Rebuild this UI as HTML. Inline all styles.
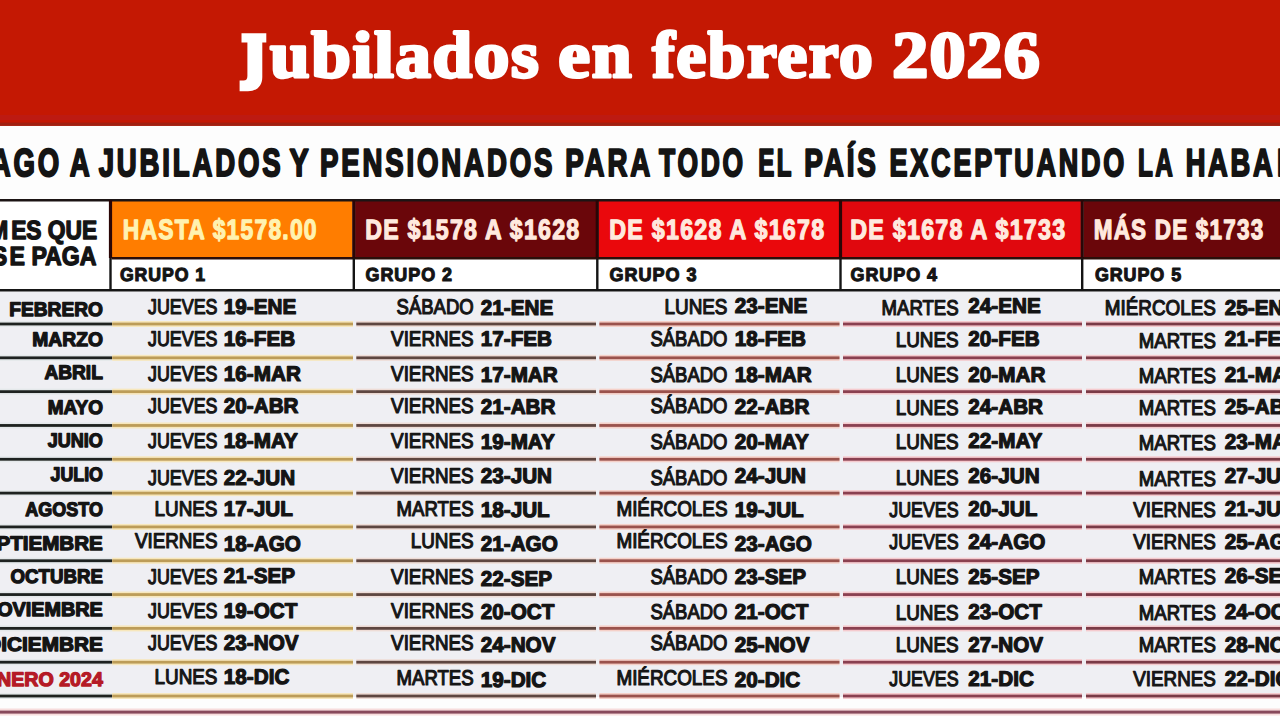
<!DOCTYPE html>
<html><head><meta charset="utf-8"><title>Jubilados en febrero 2026</title>
<style>html,body{margin:0;padding:0;width:1280px;height:720px;overflow:hidden;background:#FBFBFB}svg{display:block}</style>
</head><body>
<svg width="1280" height="720" viewBox="0 0 1280 720" text-rendering="geometricPrecision">
<rect x="0" y="0" width="1280" height="720" fill="#FDFDFD"/>
<rect x="0" y="0" width="1280" height="125.8" fill="#C41803"/>
<rect x="0" y="115" width="1280" height="5" fill="#BD1A12"/>
<rect x="0" y="122.6" width="1280" height="3.2" fill="#A02010"/>
<path d="M241.5 33.2 H266.3 V42.6 H262.3 V77 C262.3 86.5 256.5 91.2 248 91.2 H239.6 V80.6 H243.5 C246.2 80.6 247.4 79.2 247.4 76 V42.6 H241.5 Z" fill="#FFFFFF"/>
<text transform="translate(270.05 77.00) scale(1.0841 1)" font-family='"Liberation Serif"' font-weight="700" font-size="65.67" fill="#FFFFFF" stroke="#FFFFFF" stroke-width="3" stroke-linejoin="round" letter-spacing="1.5">ubilados</text>
<text transform="translate(558.35 77.00) scale(1.0913 1)" font-family='"Liberation Serif"' font-weight="700" font-size="65.67" fill="#FFFFFF" stroke="#FFFFFF" stroke-width="3" stroke-linejoin="round" letter-spacing="1.5">en</text>
<text transform="translate(652.35 77.00) scale(1.0274 1)" font-family='"Liberation Serif"' font-weight="700" font-size="65.67" fill="#FFFFFF" stroke="#FFFFFF" stroke-width="3" stroke-linejoin="round" letter-spacing="1.5">febrero</text>
<text transform="translate(892.35 77.00) scale(1.0965 1)" font-family='"Liberation Serif"' font-weight="700" font-size="65.67" fill="#FFFFFF" stroke="#FFFFFF" stroke-width="3" stroke-linejoin="round" letter-spacing="1.0">2026</text>
<text transform="translate(69.69 175.95) scale(0.7123 1)" font-family='"Liberation Sans"' font-weight="700" font-size="38.81" fill="#141414" stroke="#141414" stroke-width="2.1" stroke-linejoin="round" letter-spacing="4">A</text>
<text transform="translate(98.64 175.95) scale(0.7103 1)" font-family='"Liberation Sans"' font-weight="700" font-size="38.81" fill="#141414" stroke="#141414" stroke-width="2.1" stroke-linejoin="round" letter-spacing="4">JUBILADOS</text>
<text transform="translate(289.55 175.95) scale(0.7421 1)" font-family='"Liberation Sans"' font-weight="700" font-size="38.81" fill="#141414" stroke="#141414" stroke-width="2.1" stroke-linejoin="round" letter-spacing="4">Y</text>
<text transform="translate(319.94 175.95) scale(0.7115 1)" font-family='"Liberation Sans"' font-weight="700" font-size="38.81" fill="#141414" stroke="#141414" stroke-width="2.1" stroke-linejoin="round" letter-spacing="4">PENSIONADOS</text>
<text transform="translate(565.35 175.95) scale(0.7122 1)" font-family='"Liberation Sans"' font-weight="700" font-size="38.81" fill="#141414" stroke="#141414" stroke-width="2.1" stroke-linejoin="round" letter-spacing="4">PARA</text>
<text transform="translate(659.05 175.95) scale(0.6807 1)" font-family='"Liberation Sans"' font-weight="700" font-size="38.81" fill="#141414" stroke="#141414" stroke-width="2.1" stroke-linejoin="round" letter-spacing="4">TODO</text>
<text transform="translate(758.25 175.95) scale(0.6215 1)" font-family='"Liberation Sans"' font-weight="700" font-size="38.81" fill="#141414" stroke="#141414" stroke-width="2.1" stroke-linejoin="round" letter-spacing="4">EL</text>
<text transform="translate(804.35 175.95) scale(0.7182 1)" font-family='"Liberation Sans"' font-weight="700" font-size="38.81" fill="#141414" stroke="#141414" stroke-width="2.1" stroke-linejoin="round" letter-spacing="4">PAÍS</text>
<text transform="translate(889.55 175.95) scale(0.6956 1)" font-family='"Liberation Sans"' font-weight="700" font-size="38.81" fill="#141414" stroke="#141414" stroke-width="2.1" stroke-linejoin="round" letter-spacing="4">EXCEPTUANDO</text>
<text transform="translate(1137.94 175.95) scale(0.6255 1)" font-family='"Liberation Sans"' font-weight="700" font-size="38.81" fill="#141414" stroke="#141414" stroke-width="2.1" stroke-linejoin="round" letter-spacing="4">LA</text>
<text transform="translate(1185.64 175.95) scale(0.7022 1)" font-family='"Liberation Sans"' font-weight="700" font-size="38.81" fill="#141414" stroke="#141414" stroke-width="2.1" stroke-linejoin="round" letter-spacing="4">HABA</text>
<text transform="translate(-28.41 175.95) scale(0.7103 1)" font-family='"Liberation Sans"' font-weight="700" font-size="38.81" fill="#141414" stroke="#141414" stroke-width="2.1" stroke-linejoin="round" letter-spacing="4">PAGO</text>
<text transform="translate(1276.94 175.95) scale(0.7022 1)" font-family='"Liberation Sans"' font-weight="700" font-size="38.81" fill="#141414" stroke="#141414" stroke-width="2.1" stroke-linejoin="round" letter-spacing="4">NA</text>
<rect x="0" y="201" width="1280" height="90.5" fill="#FFFFFF"/>
<rect x="111.8" y="201" width="240.7" height="57" fill="#FF7D00"/>
<rect x="355.1" y="201" width="240.89999999999998" height="57" fill="#6A060A"/>
<rect x="598.5999999999999" y="201" width="240.60000000000014" height="57" fill="#EA080C"/>
<rect x="841.8" y="201" width="239.10000000000014" height="57" fill="#E0080E"/>
<rect x="1083.5" y="201" width="196.5" height="57" fill="#6A060A"/>
<rect x="0" y="291.5" width="1280" height="405.5" fill="#EFEFF3"/>
<rect x="0" y="199" width="1280" height="2.5" fill="#1C1414"/>
<rect x="111.5" y="257" width="1280" height="2.5" fill="#2A0E0A"/>
<rect x="0" y="289.0" width="1280" height="2.5" fill="#161616"/>
<rect x="108.9" y="200" width="3.2" height="58" fill="#2A0606"/>
<rect x="109.3" y="258" width="2.4" height="32.5" fill="#141414"/>
<rect x="352.2" y="200" width="3.2" height="58" fill="#2A0606"/>
<rect x="352.6" y="258" width="2.4" height="32.5" fill="#141414"/>
<rect x="595.6999999999999" y="200" width="3.2" height="58" fill="#2A0606"/>
<rect x="596.0999999999999" y="258" width="2.4" height="32.5" fill="#141414"/>
<rect x="838.9" y="200" width="3.2" height="58" fill="#2A0606"/>
<rect x="839.3" y="258" width="2.4" height="32.5" fill="#141414"/>
<rect x="1080.6000000000001" y="200" width="3.2" height="58" fill="#2A0606"/>
<rect x="1081.0" y="258" width="2.4" height="32.5" fill="#141414"/>
<text transform="translate(122.76 239.38) scale(0.8172 1)" font-family='"Liberation Sans"' font-weight="700" font-size="27.98" fill="#FFF2B0" stroke="#FFF2B0" stroke-width="1.25" stroke-linejoin="round" letter-spacing="1.5">HASTA $1578.00</text>
<text transform="translate(365.26 239.38) scale(0.8280 1)" font-family='"Liberation Sans"' font-weight="700" font-size="27.98" fill="#FFE9DE" stroke="#FFE9DE" stroke-width="1.25" stroke-linejoin="round" letter-spacing="1.5">DE $1578 A $1628</text>
<text transform="translate(609.26 239.38) scale(0.8319 1)" font-family='"Liberation Sans"' font-weight="700" font-size="27.98" fill="#FFE9DE" stroke="#FFE9DE" stroke-width="1.25" stroke-linejoin="round" letter-spacing="1.5">DE $1628 A $1678</text>
<text transform="translate(850.26 239.38) scale(0.8319 1)" font-family='"Liberation Sans"' font-weight="700" font-size="27.98" fill="#FFE9DE" stroke="#FFE9DE" stroke-width="1.25" stroke-linejoin="round" letter-spacing="1.5">DE $1678 A $1733</text>
<text transform="translate(1093.76 239.38) scale(0.8036 1)" font-family='"Liberation Sans"' font-weight="700" font-size="27.98" fill="#FFE9DE" stroke="#FFE9DE" stroke-width="1.25" stroke-linejoin="round" letter-spacing="1.5">MÁS DE $1733</text>
<text transform="translate(119.90 281.45) scale(0.9437 1)" font-family='"Liberation Sans"' font-weight="700" font-size="18.75" fill="#141414" stroke="#141414" stroke-width="1.1" stroke-linejoin="round" letter-spacing="1">GRUPO 1</text>
<text transform="translate(365.50 281.45) scale(0.9570 1)" font-family='"Liberation Sans"' font-weight="700" font-size="18.75" fill="#141414" stroke="#141414" stroke-width="1.1" stroke-linejoin="round" letter-spacing="1">GRUPO 2</text>
<text transform="translate(609.50 281.45) scale(0.9626 1)" font-family='"Liberation Sans"' font-weight="700" font-size="18.75" fill="#141414" stroke="#141414" stroke-width="1.1" stroke-linejoin="round" letter-spacing="1">GRUPO 3</text>
<text transform="translate(850.50 281.45) scale(0.9570 1)" font-family='"Liberation Sans"' font-weight="700" font-size="18.75" fill="#141414" stroke="#141414" stroke-width="1.1" stroke-linejoin="round" letter-spacing="1">GRUPO 4</text>
<text transform="translate(1094.89 281.45) scale(0.9537 1)" font-family='"Liberation Sans"' font-weight="700" font-size="18.75" fill="#141414" stroke="#141414" stroke-width="1.1" stroke-linejoin="round" letter-spacing="1">GRUPO 5</text>
<text transform="translate(11.13 239.30) scale(0.8654 1)" font-family='"Liberation Sans"' font-weight="700" font-size="26.31" fill="#141414" stroke="#141414" stroke-width="1.4" stroke-linejoin="round">ES QUE</text>
<text transform="translate(-10.70 239.30) scale(0.8654 1)" font-family='"Liberation Sans"' font-weight="700" font-size="26.31" fill="#141414" stroke="#141414" stroke-width="1.4" stroke-linejoin="round">M</text>
<text transform="translate(9.53 265.40) scale(0.8799 1)" font-family='"Liberation Sans"' font-weight="700" font-size="26.31" fill="#141414" stroke="#141414" stroke-width="1.4" stroke-linejoin="round">E PAGA</text>
<text transform="translate(-8.37 265.40) scale(0.8799 1)" font-family='"Liberation Sans"' font-weight="700" font-size="26.31" fill="#141414" stroke="#141414" stroke-width="1.4" stroke-linejoin="round">S</text>
<rect x="0" y="321.0" width="112.2" height="6" fill="#E4E8EA"/>
<rect x="0" y="322.6" width="112.2" height="2.8" fill="#1E2220"/>
<rect x="112.2" y="321.0" width="240.8" height="6" fill="#F7E7BC"/>
<rect x="112.2" y="322.6" width="240.8" height="2.8" fill="#BC9C58"/>
<rect x="356.3" y="321.0" width="239.7" height="6" fill="#EEDCD6"/>
<rect x="356.3" y="322.6" width="239.7" height="2.8" fill="#5E4640"/>
<rect x="599.4" y="321.0" width="240.10000000000002" height="6" fill="#F5D0C8"/>
<rect x="599.4" y="322.6" width="240.10000000000002" height="2.8" fill="#9A524C"/>
<rect x="843" y="321.0" width="239" height="6" fill="#F5CACE"/>
<rect x="843" y="322.6" width="239" height="2.8" fill="#8A4050"/>
<rect x="1086" y="321.0" width="194" height="6" fill="#F5CACE"/>
<rect x="1086" y="322.6" width="194" height="2.8" fill="#7A3A46"/>
<rect x="0" y="354.82" width="112.2" height="6" fill="#E4E8EA"/>
<rect x="0" y="356.42" width="112.2" height="2.8" fill="#1E2220"/>
<rect x="112.2" y="354.82" width="240.8" height="6" fill="#F7E7BC"/>
<rect x="112.2" y="356.42" width="240.8" height="2.8" fill="#BC9C58"/>
<rect x="356.3" y="354.82" width="239.7" height="6" fill="#EEDCD6"/>
<rect x="356.3" y="356.42" width="239.7" height="2.8" fill="#5E4640"/>
<rect x="599.4" y="354.82" width="240.10000000000002" height="6" fill="#F5D0C8"/>
<rect x="599.4" y="356.42" width="240.10000000000002" height="2.8" fill="#9A524C"/>
<rect x="843" y="354.82" width="239" height="6" fill="#F5CACE"/>
<rect x="843" y="356.42" width="239" height="2.8" fill="#8A4050"/>
<rect x="1086" y="354.82" width="194" height="6" fill="#F5CACE"/>
<rect x="1086" y="356.42" width="194" height="2.8" fill="#7A3A46"/>
<rect x="0" y="388.64" width="112.2" height="6" fill="#E4E8EA"/>
<rect x="0" y="390.24" width="112.2" height="2.8" fill="#1E2220"/>
<rect x="112.2" y="388.64" width="240.8" height="6" fill="#F7E7BC"/>
<rect x="112.2" y="390.24" width="240.8" height="2.8" fill="#BC9C58"/>
<rect x="356.3" y="388.64" width="239.7" height="6" fill="#EEDCD6"/>
<rect x="356.3" y="390.24" width="239.7" height="2.8" fill="#5E4640"/>
<rect x="599.4" y="388.64" width="240.10000000000002" height="6" fill="#F5D0C8"/>
<rect x="599.4" y="390.24" width="240.10000000000002" height="2.8" fill="#9A524C"/>
<rect x="843" y="388.64" width="239" height="6" fill="#F5CACE"/>
<rect x="843" y="390.24" width="239" height="2.8" fill="#8A4050"/>
<rect x="1086" y="388.64" width="194" height="6" fill="#F5CACE"/>
<rect x="1086" y="390.24" width="194" height="2.8" fill="#7A3A46"/>
<rect x="0" y="422.46000000000004" width="112.2" height="6" fill="#E4E8EA"/>
<rect x="0" y="424.06000000000006" width="112.2" height="2.8" fill="#1E2220"/>
<rect x="112.2" y="422.46000000000004" width="240.8" height="6" fill="#F7E7BC"/>
<rect x="112.2" y="424.06000000000006" width="240.8" height="2.8" fill="#BC9C58"/>
<rect x="356.3" y="422.46000000000004" width="239.7" height="6" fill="#EEDCD6"/>
<rect x="356.3" y="424.06000000000006" width="239.7" height="2.8" fill="#5E4640"/>
<rect x="599.4" y="422.46000000000004" width="240.10000000000002" height="6" fill="#F5D0C8"/>
<rect x="599.4" y="424.06000000000006" width="240.10000000000002" height="2.8" fill="#9A524C"/>
<rect x="843" y="422.46000000000004" width="239" height="6" fill="#F5CACE"/>
<rect x="843" y="424.06000000000006" width="239" height="2.8" fill="#8A4050"/>
<rect x="1086" y="422.46000000000004" width="194" height="6" fill="#F5CACE"/>
<rect x="1086" y="424.06000000000006" width="194" height="2.8" fill="#7A3A46"/>
<rect x="0" y="456.28" width="112.2" height="6" fill="#E4E8EA"/>
<rect x="0" y="457.88" width="112.2" height="2.8" fill="#1E2220"/>
<rect x="112.2" y="456.28" width="240.8" height="6" fill="#F7E7BC"/>
<rect x="112.2" y="457.88" width="240.8" height="2.8" fill="#BC9C58"/>
<rect x="356.3" y="456.28" width="239.7" height="6" fill="#EEDCD6"/>
<rect x="356.3" y="457.88" width="239.7" height="2.8" fill="#5E4640"/>
<rect x="599.4" y="456.28" width="240.10000000000002" height="6" fill="#F5D0C8"/>
<rect x="599.4" y="457.88" width="240.10000000000002" height="2.8" fill="#9A524C"/>
<rect x="843" y="456.28" width="239" height="6" fill="#F5CACE"/>
<rect x="843" y="457.88" width="239" height="2.8" fill="#8A4050"/>
<rect x="1086" y="456.28" width="194" height="6" fill="#F5CACE"/>
<rect x="1086" y="457.88" width="194" height="2.8" fill="#7A3A46"/>
<rect x="0" y="490.1" width="112.2" height="6" fill="#E4E8EA"/>
<rect x="0" y="491.70000000000005" width="112.2" height="2.8" fill="#1E2220"/>
<rect x="112.2" y="490.1" width="240.8" height="6" fill="#F7E7BC"/>
<rect x="112.2" y="491.70000000000005" width="240.8" height="2.8" fill="#BC9C58"/>
<rect x="356.3" y="490.1" width="239.7" height="6" fill="#EEDCD6"/>
<rect x="356.3" y="491.70000000000005" width="239.7" height="2.8" fill="#5E4640"/>
<rect x="599.4" y="490.1" width="240.10000000000002" height="6" fill="#F5D0C8"/>
<rect x="599.4" y="491.70000000000005" width="240.10000000000002" height="2.8" fill="#9A524C"/>
<rect x="843" y="490.1" width="239" height="6" fill="#F5CACE"/>
<rect x="843" y="491.70000000000005" width="239" height="2.8" fill="#8A4050"/>
<rect x="1086" y="490.1" width="194" height="6" fill="#F5CACE"/>
<rect x="1086" y="491.70000000000005" width="194" height="2.8" fill="#7A3A46"/>
<rect x="0" y="523.9200000000001" width="112.2" height="6" fill="#E4E8EA"/>
<rect x="0" y="525.5200000000001" width="112.2" height="2.8" fill="#1E2220"/>
<rect x="112.2" y="523.9200000000001" width="240.8" height="6" fill="#F7E7BC"/>
<rect x="112.2" y="525.5200000000001" width="240.8" height="2.8" fill="#BC9C58"/>
<rect x="356.3" y="523.9200000000001" width="239.7" height="6" fill="#EEDCD6"/>
<rect x="356.3" y="525.5200000000001" width="239.7" height="2.8" fill="#5E4640"/>
<rect x="599.4" y="523.9200000000001" width="240.10000000000002" height="6" fill="#F5D0C8"/>
<rect x="599.4" y="525.5200000000001" width="240.10000000000002" height="2.8" fill="#9A524C"/>
<rect x="843" y="523.9200000000001" width="239" height="6" fill="#F5CACE"/>
<rect x="843" y="525.5200000000001" width="239" height="2.8" fill="#8A4050"/>
<rect x="1086" y="523.9200000000001" width="194" height="6" fill="#F5CACE"/>
<rect x="1086" y="525.5200000000001" width="194" height="2.8" fill="#7A3A46"/>
<rect x="0" y="557.74" width="112.2" height="6" fill="#E4E8EA"/>
<rect x="0" y="559.34" width="112.2" height="2.8" fill="#1E2220"/>
<rect x="112.2" y="557.74" width="240.8" height="6" fill="#F7E7BC"/>
<rect x="112.2" y="559.34" width="240.8" height="2.8" fill="#BC9C58"/>
<rect x="356.3" y="557.74" width="239.7" height="6" fill="#EEDCD6"/>
<rect x="356.3" y="559.34" width="239.7" height="2.8" fill="#5E4640"/>
<rect x="599.4" y="557.74" width="240.10000000000002" height="6" fill="#F5D0C8"/>
<rect x="599.4" y="559.34" width="240.10000000000002" height="2.8" fill="#9A524C"/>
<rect x="843" y="557.74" width="239" height="6" fill="#F5CACE"/>
<rect x="843" y="559.34" width="239" height="2.8" fill="#8A4050"/>
<rect x="1086" y="557.74" width="194" height="6" fill="#F5CACE"/>
<rect x="1086" y="559.34" width="194" height="2.8" fill="#7A3A46"/>
<rect x="0" y="591.56" width="112.2" height="6" fill="#E4E8EA"/>
<rect x="0" y="593.16" width="112.2" height="2.8" fill="#1E2220"/>
<rect x="112.2" y="591.56" width="240.8" height="6" fill="#F7E7BC"/>
<rect x="112.2" y="593.16" width="240.8" height="2.8" fill="#BC9C58"/>
<rect x="356.3" y="591.56" width="239.7" height="6" fill="#EEDCD6"/>
<rect x="356.3" y="593.16" width="239.7" height="2.8" fill="#5E4640"/>
<rect x="599.4" y="591.56" width="240.10000000000002" height="6" fill="#F5D0C8"/>
<rect x="599.4" y="593.16" width="240.10000000000002" height="2.8" fill="#9A524C"/>
<rect x="843" y="591.56" width="239" height="6" fill="#F5CACE"/>
<rect x="843" y="593.16" width="239" height="2.8" fill="#8A4050"/>
<rect x="1086" y="591.56" width="194" height="6" fill="#F5CACE"/>
<rect x="1086" y="593.16" width="194" height="2.8" fill="#7A3A46"/>
<rect x="0" y="625.38" width="112.2" height="6" fill="#E4E8EA"/>
<rect x="0" y="626.98" width="112.2" height="2.8" fill="#1E2220"/>
<rect x="112.2" y="625.38" width="240.8" height="6" fill="#F7E7BC"/>
<rect x="112.2" y="626.98" width="240.8" height="2.8" fill="#BC9C58"/>
<rect x="356.3" y="625.38" width="239.7" height="6" fill="#EEDCD6"/>
<rect x="356.3" y="626.98" width="239.7" height="2.8" fill="#5E4640"/>
<rect x="599.4" y="625.38" width="240.10000000000002" height="6" fill="#F5D0C8"/>
<rect x="599.4" y="626.98" width="240.10000000000002" height="2.8" fill="#9A524C"/>
<rect x="843" y="625.38" width="239" height="6" fill="#F5CACE"/>
<rect x="843" y="626.98" width="239" height="2.8" fill="#8A4050"/>
<rect x="1086" y="625.38" width="194" height="6" fill="#F5CACE"/>
<rect x="1086" y="626.98" width="194" height="2.8" fill="#7A3A46"/>
<rect x="0" y="659.2" width="112.2" height="6" fill="#E4E8EA"/>
<rect x="0" y="660.8000000000001" width="112.2" height="2.8" fill="#1E2220"/>
<rect x="112.2" y="659.2" width="240.8" height="6" fill="#F7E7BC"/>
<rect x="112.2" y="660.8000000000001" width="240.8" height="2.8" fill="#BC9C58"/>
<rect x="356.3" y="659.2" width="239.7" height="6" fill="#EEDCD6"/>
<rect x="356.3" y="660.8000000000001" width="239.7" height="2.8" fill="#5E4640"/>
<rect x="599.4" y="659.2" width="240.10000000000002" height="6" fill="#F5D0C8"/>
<rect x="599.4" y="660.8000000000001" width="240.10000000000002" height="2.8" fill="#9A524C"/>
<rect x="843" y="659.2" width="239" height="6" fill="#F5CACE"/>
<rect x="843" y="660.8000000000001" width="239" height="2.8" fill="#8A4050"/>
<rect x="1086" y="659.2" width="194" height="6" fill="#F5CACE"/>
<rect x="1086" y="660.8000000000001" width="194" height="2.8" fill="#7A3A46"/>
<rect x="0" y="693.02" width="112.2" height="6" fill="#E4E8EA"/>
<rect x="0" y="694.62" width="112.2" height="2.8" fill="#1E2220"/>
<rect x="112.2" y="693.02" width="240.8" height="6" fill="#F7E7BC"/>
<rect x="112.2" y="694.62" width="240.8" height="2.8" fill="#BC9C58"/>
<rect x="356.3" y="693.02" width="239.7" height="6" fill="#EEDCD6"/>
<rect x="356.3" y="694.62" width="239.7" height="2.8" fill="#5E4640"/>
<rect x="599.4" y="693.02" width="240.10000000000002" height="6" fill="#F5D0C8"/>
<rect x="599.4" y="694.62" width="240.10000000000002" height="2.8" fill="#9A524C"/>
<rect x="843" y="693.02" width="239" height="6" fill="#F5CACE"/>
<rect x="843" y="694.62" width="239" height="2.8" fill="#8A4050"/>
<rect x="1086" y="693.02" width="194" height="6" fill="#F5CACE"/>
<rect x="1086" y="694.62" width="194" height="2.8" fill="#7A3A46"/>
<rect x="0" y="708.5" width="1280" height="7" fill="#F7DCDC"/>
<rect x="0" y="710.6" width="1280" height="3" fill="#86485A"/>
<text transform="translate(9.28 316.15) scale(0.9760 1)" font-family='"Liberation Sans"' font-weight="700" font-size="19.62" fill="#141414" stroke="#141414" stroke-width="1.3" stroke-linejoin="round">FEBRERO</text>
<text transform="translate(148.05 314.00) scale(0.8408 1)" font-family='"Liberation Sans"' font-weight="400" font-size="21.22" fill="#161616" stroke="#161616" stroke-width="1.2" stroke-linejoin="round">JUEVES</text>
<text transform="translate(223.84 314.00) scale(0.9750 1)" font-family='"Liberation Sans"' font-weight="700" font-size="21.22" fill="#141414" stroke="#141414" stroke-width="1.2" stroke-linejoin="round">19-ENE</text>
<text transform="translate(396.58 314.00) scale(0.8714 1)" font-family='"Liberation Sans"' font-weight="400" font-size="21.22" fill="#161616" stroke="#161616" stroke-width="1.2" stroke-linejoin="round">SÁBADO</text>
<text transform="translate(480.74 314.50) scale(0.9750 1)" font-family='"Liberation Sans"' font-weight="700" font-size="21.22" fill="#141414" stroke="#141414" stroke-width="1.2" stroke-linejoin="round">21-ENE</text>
<text transform="translate(664.52 314.00) scale(0.8894 1)" font-family='"Liberation Sans"' font-weight="400" font-size="21.22" fill="#161616" stroke="#161616" stroke-width="1.2" stroke-linejoin="round">LUNES</text>
<text transform="translate(734.74 313.40) scale(0.9750 1)" font-family='"Liberation Sans"' font-weight="700" font-size="21.22" fill="#141414" stroke="#141414" stroke-width="1.2" stroke-linejoin="round">23-ENE</text>
<text transform="translate(881.56 315.40) scale(0.8756 1)" font-family='"Liberation Sans"' font-weight="400" font-size="21.22" fill="#161616" stroke="#161616" stroke-width="1.2" stroke-linejoin="round">MARTES</text>
<text transform="translate(968.34 312.60) scale(0.9750 1)" font-family='"Liberation Sans"' font-weight="700" font-size="21.22" fill="#141414" stroke="#141414" stroke-width="1.2" stroke-linejoin="round">24-ENE</text>
<text transform="translate(1104.83 314.50) scale(0.8883 1)" font-family='"Liberation Sans"' font-weight="400" font-size="21.22" fill="#161616" stroke="#161616" stroke-width="1.2" stroke-linejoin="round">MIÉRCOLES</text>
<text transform="translate(1224.84 314.50) scale(0.9750 1)" font-family='"Liberation Sans"' font-weight="700" font-size="21.22" fill="#141414" stroke="#141414" stroke-width="1.2" stroke-linejoin="round">25-ENE</text>
<text transform="translate(32.35 345.95) scale(0.9810 1)" font-family='"Liberation Sans"' font-weight="700" font-size="19.62" fill="#141414" stroke="#141414" stroke-width="1.3" stroke-linejoin="round">MARZO</text>
<text transform="translate(148.05 346.40) scale(0.8408 1)" font-family='"Liberation Sans"' font-weight="400" font-size="21.22" fill="#161616" stroke="#161616" stroke-width="1.2" stroke-linejoin="round">JUEVES</text>
<text transform="translate(223.84 346.40) scale(0.9750 1)" font-family='"Liberation Sans"' font-weight="700" font-size="21.22" fill="#141414" stroke="#141414" stroke-width="1.2" stroke-linejoin="round">16-FEB</text>
<text transform="translate(391.10 345.50) scale(0.8862 1)" font-family='"Liberation Sans"' font-weight="400" font-size="21.22" fill="#161616" stroke="#161616" stroke-width="1.2" stroke-linejoin="round">VIERNES</text>
<text transform="translate(480.74 345.50) scale(0.9750 1)" font-family='"Liberation Sans"' font-weight="700" font-size="21.22" fill="#141414" stroke="#141414" stroke-width="1.2" stroke-linejoin="round">17-FEB</text>
<text transform="translate(650.38 346.40) scale(0.8714 1)" font-family='"Liberation Sans"' font-weight="400" font-size="21.22" fill="#161616" stroke="#161616" stroke-width="1.2" stroke-linejoin="round">SÁBADO</text>
<text transform="translate(734.74 346.40) scale(0.9750 1)" font-family='"Liberation Sans"' font-weight="700" font-size="21.22" fill="#141414" stroke="#141414" stroke-width="1.2" stroke-linejoin="round">18-FEB</text>
<text transform="translate(895.72 347.20) scale(0.8894 1)" font-family='"Liberation Sans"' font-weight="400" font-size="21.22" fill="#161616" stroke="#161616" stroke-width="1.2" stroke-linejoin="round">LUNES</text>
<text transform="translate(968.34 346.40) scale(0.9750 1)" font-family='"Liberation Sans"' font-weight="700" font-size="21.22" fill="#141414" stroke="#141414" stroke-width="1.2" stroke-linejoin="round">20-FEB</text>
<text transform="translate(1138.76 347.80) scale(0.8756 1)" font-family='"Liberation Sans"' font-weight="400" font-size="21.22" fill="#161616" stroke="#161616" stroke-width="1.2" stroke-linejoin="round">MARTES</text>
<text transform="translate(1224.84 346.40) scale(0.9750 1)" font-family='"Liberation Sans"' font-weight="700" font-size="21.22" fill="#141414" stroke="#141414" stroke-width="1.2" stroke-linejoin="round">21-FEB</text>
<text transform="translate(44.41 378.75) scale(0.9760 1)" font-family='"Liberation Sans"' font-weight="700" font-size="19.62" fill="#141414" stroke="#141414" stroke-width="1.3" stroke-linejoin="round">ABRIL</text>
<text transform="translate(148.05 381.10) scale(0.8408 1)" font-family='"Liberation Sans"' font-weight="400" font-size="21.22" fill="#161616" stroke="#161616" stroke-width="1.2" stroke-linejoin="round">JUEVES</text>
<text transform="translate(223.84 381.10) scale(0.9750 1)" font-family='"Liberation Sans"' font-weight="700" font-size="21.22" fill="#141414" stroke="#141414" stroke-width="1.2" stroke-linejoin="round">16-MAR</text>
<text transform="translate(391.10 381.10) scale(0.8862 1)" font-family='"Liberation Sans"' font-weight="400" font-size="21.22" fill="#161616" stroke="#161616" stroke-width="1.2" stroke-linejoin="round">VIERNES</text>
<text transform="translate(480.74 381.60) scale(0.9750 1)" font-family='"Liberation Sans"' font-weight="700" font-size="21.22" fill="#141414" stroke="#141414" stroke-width="1.2" stroke-linejoin="round">17-MAR</text>
<text transform="translate(650.38 381.60) scale(0.8714 1)" font-family='"Liberation Sans"' font-weight="400" font-size="21.22" fill="#161616" stroke="#161616" stroke-width="1.2" stroke-linejoin="round">SÁBADO</text>
<text transform="translate(734.74 381.60) scale(0.9750 1)" font-family='"Liberation Sans"' font-weight="700" font-size="21.22" fill="#141414" stroke="#141414" stroke-width="1.2" stroke-linejoin="round">18-MAR</text>
<text transform="translate(895.72 382.20) scale(0.8894 1)" font-family='"Liberation Sans"' font-weight="400" font-size="21.22" fill="#161616" stroke="#161616" stroke-width="1.2" stroke-linejoin="round">LUNES</text>
<text transform="translate(968.34 381.60) scale(0.9750 1)" font-family='"Liberation Sans"' font-weight="700" font-size="21.22" fill="#141414" stroke="#141414" stroke-width="1.2" stroke-linejoin="round">20-MAR</text>
<text transform="translate(1138.76 383.10) scale(0.8756 1)" font-family='"Liberation Sans"' font-weight="400" font-size="21.22" fill="#161616" stroke="#161616" stroke-width="1.2" stroke-linejoin="round">MARTES</text>
<text transform="translate(1224.84 382.20) scale(0.9750 1)" font-family='"Liberation Sans"' font-weight="700" font-size="21.22" fill="#141414" stroke="#141414" stroke-width="1.2" stroke-linejoin="round">21-MAR</text>
<text transform="translate(47.74 413.65) scale(0.9670 1)" font-family='"Liberation Sans"' font-weight="700" font-size="19.62" fill="#141414" stroke="#141414" stroke-width="1.3" stroke-linejoin="round">MAYO</text>
<text transform="translate(148.05 412.70) scale(0.8408 1)" font-family='"Liberation Sans"' font-weight="400" font-size="21.22" fill="#161616" stroke="#161616" stroke-width="1.2" stroke-linejoin="round">JUEVES</text>
<text transform="translate(223.84 412.70) scale(0.9750 1)" font-family='"Liberation Sans"' font-weight="700" font-size="21.22" fill="#141414" stroke="#141414" stroke-width="1.2" stroke-linejoin="round">20-ABR</text>
<text transform="translate(391.10 413.20) scale(0.8862 1)" font-family='"Liberation Sans"' font-weight="400" font-size="21.22" fill="#161616" stroke="#161616" stroke-width="1.2" stroke-linejoin="round">VIERNES</text>
<text transform="translate(480.74 414.10) scale(0.9750 1)" font-family='"Liberation Sans"' font-weight="700" font-size="21.22" fill="#141414" stroke="#141414" stroke-width="1.2" stroke-linejoin="round">21-ABR</text>
<text transform="translate(650.38 413.20) scale(0.8714 1)" font-family='"Liberation Sans"' font-weight="400" font-size="21.22" fill="#161616" stroke="#161616" stroke-width="1.2" stroke-linejoin="round">SÁBADO</text>
<text transform="translate(734.74 414.10) scale(0.9750 1)" font-family='"Liberation Sans"' font-weight="700" font-size="21.22" fill="#141414" stroke="#141414" stroke-width="1.2" stroke-linejoin="round">22-ABR</text>
<text transform="translate(895.72 414.90) scale(0.8894 1)" font-family='"Liberation Sans"' font-weight="400" font-size="21.22" fill="#161616" stroke="#161616" stroke-width="1.2" stroke-linejoin="round">LUNES</text>
<text transform="translate(968.34 414.10) scale(0.9750 1)" font-family='"Liberation Sans"' font-weight="700" font-size="21.22" fill="#141414" stroke="#141414" stroke-width="1.2" stroke-linejoin="round">24-ABR</text>
<text transform="translate(1138.76 414.90) scale(0.8756 1)" font-family='"Liberation Sans"' font-weight="400" font-size="21.22" fill="#161616" stroke="#161616" stroke-width="1.2" stroke-linejoin="round">MARTES</text>
<text transform="translate(1224.84 414.10) scale(0.9750 1)" font-family='"Liberation Sans"' font-weight="700" font-size="21.22" fill="#141414" stroke="#141414" stroke-width="1.2" stroke-linejoin="round">25-ABR</text>
<text transform="translate(47.75 446.75) scale(0.9200 1)" font-family='"Liberation Sans"' font-weight="700" font-size="19.62" fill="#141414" stroke="#141414" stroke-width="1.3" stroke-linejoin="round">JUNIO</text>
<text transform="translate(148.05 447.90) scale(0.8408 1)" font-family='"Liberation Sans"' font-weight="400" font-size="21.22" fill="#161616" stroke="#161616" stroke-width="1.2" stroke-linejoin="round">JUEVES</text>
<text transform="translate(223.84 447.90) scale(0.9750 1)" font-family='"Liberation Sans"' font-weight="700" font-size="21.22" fill="#141414" stroke="#141414" stroke-width="1.2" stroke-linejoin="round">18-MAY</text>
<text transform="translate(391.10 447.90) scale(0.8862 1)" font-family='"Liberation Sans"' font-weight="400" font-size="21.22" fill="#161616" stroke="#161616" stroke-width="1.2" stroke-linejoin="round">VIERNES</text>
<text transform="translate(480.74 448.80) scale(0.9750 1)" font-family='"Liberation Sans"' font-weight="700" font-size="21.22" fill="#141414" stroke="#141414" stroke-width="1.2" stroke-linejoin="round">19-MAY</text>
<text transform="translate(650.38 448.80) scale(0.8714 1)" font-family='"Liberation Sans"' font-weight="400" font-size="21.22" fill="#161616" stroke="#161616" stroke-width="1.2" stroke-linejoin="round">SÁBADO</text>
<text transform="translate(734.74 448.80) scale(0.9750 1)" font-family='"Liberation Sans"' font-weight="700" font-size="21.22" fill="#141414" stroke="#141414" stroke-width="1.2" stroke-linejoin="round">20-MAY</text>
<text transform="translate(895.72 449.40) scale(0.8894 1)" font-family='"Liberation Sans"' font-weight="400" font-size="21.22" fill="#161616" stroke="#161616" stroke-width="1.2" stroke-linejoin="round">LUNES</text>
<text transform="translate(968.34 447.90) scale(0.9750 1)" font-family='"Liberation Sans"' font-weight="700" font-size="21.22" fill="#141414" stroke="#141414" stroke-width="1.2" stroke-linejoin="round">22-MAY</text>
<text transform="translate(1138.76 449.90) scale(0.8756 1)" font-family='"Liberation Sans"' font-weight="400" font-size="21.22" fill="#161616" stroke="#161616" stroke-width="1.2" stroke-linejoin="round">MARTES</text>
<text transform="translate(1224.84 448.80) scale(0.9750 1)" font-family='"Liberation Sans"' font-weight="700" font-size="21.22" fill="#141414" stroke="#141414" stroke-width="1.2" stroke-linejoin="round">23-MAY</text>
<text transform="translate(50.62 480.75) scale(0.9050 1)" font-family='"Liberation Sans"' font-weight="700" font-size="19.62" fill="#141414" stroke="#141414" stroke-width="1.3" stroke-linejoin="round">JULIO</text>
<text transform="translate(148.05 484.60) scale(0.8408 1)" font-family='"Liberation Sans"' font-weight="400" font-size="21.22" fill="#161616" stroke="#161616" stroke-width="1.2" stroke-linejoin="round">JUEVES</text>
<text transform="translate(223.84 484.60) scale(0.9750 1)" font-family='"Liberation Sans"' font-weight="700" font-size="21.22" fill="#141414" stroke="#141414" stroke-width="1.2" stroke-linejoin="round">22-JUN</text>
<text transform="translate(391.10 483.20) scale(0.8862 1)" font-family='"Liberation Sans"' font-weight="400" font-size="21.22" fill="#161616" stroke="#161616" stroke-width="1.2" stroke-linejoin="round">VIERNES</text>
<text transform="translate(480.74 483.20) scale(0.9750 1)" font-family='"Liberation Sans"' font-weight="700" font-size="21.22" fill="#141414" stroke="#141414" stroke-width="1.2" stroke-linejoin="round">23-JUN</text>
<text transform="translate(650.38 484.60) scale(0.8714 1)" font-family='"Liberation Sans"' font-weight="400" font-size="21.22" fill="#161616" stroke="#161616" stroke-width="1.2" stroke-linejoin="round">SÁBADO</text>
<text transform="translate(734.74 483.20) scale(0.9750 1)" font-family='"Liberation Sans"' font-weight="700" font-size="21.22" fill="#141414" stroke="#141414" stroke-width="1.2" stroke-linejoin="round">24-JUN</text>
<text transform="translate(895.72 485.40) scale(0.8894 1)" font-family='"Liberation Sans"' font-weight="400" font-size="21.22" fill="#161616" stroke="#161616" stroke-width="1.2" stroke-linejoin="round">LUNES</text>
<text transform="translate(968.34 483.20) scale(0.9750 1)" font-family='"Liberation Sans"' font-weight="700" font-size="21.22" fill="#141414" stroke="#141414" stroke-width="1.2" stroke-linejoin="round">26-JUN</text>
<text transform="translate(1138.76 486.00) scale(0.8756 1)" font-family='"Liberation Sans"' font-weight="400" font-size="21.22" fill="#161616" stroke="#161616" stroke-width="1.2" stroke-linejoin="round">MARTES</text>
<text transform="translate(1224.84 483.20) scale(0.9750 1)" font-family='"Liberation Sans"' font-weight="700" font-size="21.22" fill="#141414" stroke="#141414" stroke-width="1.2" stroke-linejoin="round">27-JUN</text>
<text transform="translate(25.36 515.85) scale(0.9160 1)" font-family='"Liberation Sans"' font-weight="700" font-size="19.62" fill="#141414" stroke="#141414" stroke-width="1.3" stroke-linejoin="round">AGOSTO</text>
<text transform="translate(154.52 515.90) scale(0.8894 1)" font-family='"Liberation Sans"' font-weight="400" font-size="21.22" fill="#161616" stroke="#161616" stroke-width="1.2" stroke-linejoin="round">LUNES</text>
<text transform="translate(223.84 515.90) scale(0.9750 1)" font-family='"Liberation Sans"' font-weight="700" font-size="21.22" fill="#141414" stroke="#141414" stroke-width="1.2" stroke-linejoin="round">17-JUL</text>
<text transform="translate(396.56 515.90) scale(0.8756 1)" font-family='"Liberation Sans"' font-weight="400" font-size="21.22" fill="#161616" stroke="#161616" stroke-width="1.2" stroke-linejoin="round">MARTES</text>
<text transform="translate(480.74 516.80) scale(0.9750 1)" font-family='"Liberation Sans"' font-weight="700" font-size="21.22" fill="#141414" stroke="#141414" stroke-width="1.2" stroke-linejoin="round">18-JUL</text>
<text transform="translate(616.43 515.90) scale(0.8883 1)" font-family='"Liberation Sans"' font-weight="400" font-size="21.22" fill="#161616" stroke="#161616" stroke-width="1.2" stroke-linejoin="round">MIÉRCOLES</text>
<text transform="translate(734.74 516.80) scale(0.9750 1)" font-family='"Liberation Sans"' font-weight="700" font-size="21.22" fill="#141414" stroke="#141414" stroke-width="1.2" stroke-linejoin="round">19-JUL</text>
<text transform="translate(889.25 516.80) scale(0.8408 1)" font-family='"Liberation Sans"' font-weight="400" font-size="21.22" fill="#161616" stroke="#161616" stroke-width="1.2" stroke-linejoin="round">JUEVES</text>
<text transform="translate(968.34 515.90) scale(0.9750 1)" font-family='"Liberation Sans"' font-weight="700" font-size="21.22" fill="#141414" stroke="#141414" stroke-width="1.2" stroke-linejoin="round">20-JUL</text>
<text transform="translate(1133.30 516.80) scale(0.8862 1)" font-family='"Liberation Sans"' font-weight="400" font-size="21.22" fill="#161616" stroke="#161616" stroke-width="1.2" stroke-linejoin="round">VIERNES</text>
<text transform="translate(1224.84 515.90) scale(0.9750 1)" font-family='"Liberation Sans"' font-weight="700" font-size="21.22" fill="#141414" stroke="#141414" stroke-width="1.2" stroke-linejoin="round">21-JUL</text>
<text transform="translate(-31.03 549.85) scale(1.0500 1)" font-family='"Liberation Sans"' font-weight="700" font-size="19.62" fill="#141414" stroke="#141414" stroke-width="1.3" stroke-linejoin="round">SEPTIEMBRE</text>
<text transform="translate(134.90 547.70) scale(0.8862 1)" font-family='"Liberation Sans"' font-weight="400" font-size="21.22" fill="#161616" stroke="#161616" stroke-width="1.2" stroke-linejoin="round">VIERNES</text>
<text transform="translate(223.84 550.60) scale(0.9750 1)" font-family='"Liberation Sans"' font-weight="700" font-size="21.22" fill="#141414" stroke="#141414" stroke-width="1.2" stroke-linejoin="round">18-AGO</text>
<text transform="translate(410.72 547.70) scale(0.8894 1)" font-family='"Liberation Sans"' font-weight="400" font-size="21.22" fill="#161616" stroke="#161616" stroke-width="1.2" stroke-linejoin="round">LUNES</text>
<text transform="translate(480.74 550.60) scale(0.9750 1)" font-family='"Liberation Sans"' font-weight="700" font-size="21.22" fill="#141414" stroke="#141414" stroke-width="1.2" stroke-linejoin="round">21-AGO</text>
<text transform="translate(616.43 547.70) scale(0.8883 1)" font-family='"Liberation Sans"' font-weight="400" font-size="21.22" fill="#161616" stroke="#161616" stroke-width="1.2" stroke-linejoin="round">MIÉRCOLES</text>
<text transform="translate(734.74 550.60) scale(0.9750 1)" font-family='"Liberation Sans"' font-weight="700" font-size="21.22" fill="#141414" stroke="#141414" stroke-width="1.2" stroke-linejoin="round">23-AGO</text>
<text transform="translate(889.25 549.20) scale(0.8408 1)" font-family='"Liberation Sans"' font-weight="400" font-size="21.22" fill="#161616" stroke="#161616" stroke-width="1.2" stroke-linejoin="round">JUEVES</text>
<text transform="translate(968.34 549.20) scale(0.9750 1)" font-family='"Liberation Sans"' font-weight="700" font-size="21.22" fill="#141414" stroke="#141414" stroke-width="1.2" stroke-linejoin="round">24-AGO</text>
<text transform="translate(1133.30 549.20) scale(0.8862 1)" font-family='"Liberation Sans"' font-weight="400" font-size="21.22" fill="#161616" stroke="#161616" stroke-width="1.2" stroke-linejoin="round">VIERNES</text>
<text transform="translate(1224.84 549.20) scale(0.9750 1)" font-family='"Liberation Sans"' font-weight="700" font-size="21.22" fill="#141414" stroke="#141414" stroke-width="1.2" stroke-linejoin="round">25-AGO</text>
<text transform="translate(10.56 582.65) scale(0.9520 1)" font-family='"Liberation Sans"' font-weight="700" font-size="19.62" fill="#141414" stroke="#141414" stroke-width="1.3" stroke-linejoin="round">OCTUBRE</text>
<text transform="translate(148.05 583.80) scale(0.8408 1)" font-family='"Liberation Sans"' font-weight="400" font-size="21.22" fill="#161616" stroke="#161616" stroke-width="1.2" stroke-linejoin="round">JUEVES</text>
<text transform="translate(223.84 583.20) scale(0.9750 1)" font-family='"Liberation Sans"' font-weight="700" font-size="21.22" fill="#141414" stroke="#141414" stroke-width="1.2" stroke-linejoin="round">21-SEP</text>
<text transform="translate(391.10 583.80) scale(0.8862 1)" font-family='"Liberation Sans"' font-weight="400" font-size="21.22" fill="#161616" stroke="#161616" stroke-width="1.2" stroke-linejoin="round">VIERNES</text>
<text transform="translate(480.74 586.10) scale(0.9750 1)" font-family='"Liberation Sans"' font-weight="700" font-size="21.22" fill="#141414" stroke="#141414" stroke-width="1.2" stroke-linejoin="round">22-SEP</text>
<text transform="translate(650.38 583.80) scale(0.8714 1)" font-family='"Liberation Sans"' font-weight="400" font-size="21.22" fill="#161616" stroke="#161616" stroke-width="1.2" stroke-linejoin="round">SÁBADO</text>
<text transform="translate(734.74 584.40) scale(0.9750 1)" font-family='"Liberation Sans"' font-weight="700" font-size="21.22" fill="#141414" stroke="#141414" stroke-width="1.2" stroke-linejoin="round">23-SEP</text>
<text transform="translate(895.72 584.40) scale(0.8894 1)" font-family='"Liberation Sans"' font-weight="400" font-size="21.22" fill="#161616" stroke="#161616" stroke-width="1.2" stroke-linejoin="round">LUNES</text>
<text transform="translate(968.34 583.80) scale(0.9750 1)" font-family='"Liberation Sans"' font-weight="700" font-size="21.22" fill="#141414" stroke="#141414" stroke-width="1.2" stroke-linejoin="round">25-SEP</text>
<text transform="translate(1138.76 584.40) scale(0.8756 1)" font-family='"Liberation Sans"' font-weight="400" font-size="21.22" fill="#161616" stroke="#161616" stroke-width="1.2" stroke-linejoin="round">MARTES</text>
<text transform="translate(1224.84 583.20) scale(0.9750 1)" font-family='"Liberation Sans"' font-weight="700" font-size="21.22" fill="#141414" stroke="#141414" stroke-width="1.2" stroke-linejoin="round">26-SEP</text>
<text transform="translate(-17.11 616.25) scale(1.0100 1)" font-family='"Liberation Sans"' font-weight="700" font-size="19.62" fill="#141414" stroke="#141414" stroke-width="1.3" stroke-linejoin="round">NOVIEMBRE</text>
<text transform="translate(148.05 618.40) scale(0.8408 1)" font-family='"Liberation Sans"' font-weight="400" font-size="21.22" fill="#161616" stroke="#161616" stroke-width="1.2" stroke-linejoin="round">JUEVES</text>
<text transform="translate(223.84 618.40) scale(0.9750 1)" font-family='"Liberation Sans"' font-weight="700" font-size="21.22" fill="#141414" stroke="#141414" stroke-width="1.2" stroke-linejoin="round">19-OCT</text>
<text transform="translate(391.10 618.40) scale(0.8862 1)" font-family='"Liberation Sans"' font-weight="400" font-size="21.22" fill="#161616" stroke="#161616" stroke-width="1.2" stroke-linejoin="round">VIERNES</text>
<text transform="translate(480.74 619.00) scale(0.9750 1)" font-family='"Liberation Sans"' font-weight="700" font-size="21.22" fill="#141414" stroke="#141414" stroke-width="1.2" stroke-linejoin="round">20-OCT</text>
<text transform="translate(650.38 619.00) scale(0.8714 1)" font-family='"Liberation Sans"' font-weight="400" font-size="21.22" fill="#161616" stroke="#161616" stroke-width="1.2" stroke-linejoin="round">SÁBADO</text>
<text transform="translate(734.74 619.00) scale(0.9750 1)" font-family='"Liberation Sans"' font-weight="700" font-size="21.22" fill="#141414" stroke="#141414" stroke-width="1.2" stroke-linejoin="round">21-OCT</text>
<text transform="translate(895.72 619.90) scale(0.8894 1)" font-family='"Liberation Sans"' font-weight="400" font-size="21.22" fill="#161616" stroke="#161616" stroke-width="1.2" stroke-linejoin="round">LUNES</text>
<text transform="translate(968.34 619.00) scale(0.9750 1)" font-family='"Liberation Sans"' font-weight="700" font-size="21.22" fill="#141414" stroke="#141414" stroke-width="1.2" stroke-linejoin="round">23-OCT</text>
<text transform="translate(1138.76 619.90) scale(0.8756 1)" font-family='"Liberation Sans"' font-weight="400" font-size="21.22" fill="#161616" stroke="#161616" stroke-width="1.2" stroke-linejoin="round">MARTES</text>
<text transform="translate(1224.84 619.00) scale(0.9750 1)" font-family='"Liberation Sans"' font-weight="700" font-size="21.22" fill="#141414" stroke="#141414" stroke-width="1.2" stroke-linejoin="round">24-OCT</text>
<text transform="translate(-13.79 650.75) scale(1.0600 1)" font-family='"Liberation Sans"' font-weight="700" font-size="19.62" fill="#141414" stroke="#141414" stroke-width="1.3" stroke-linejoin="round">DICIEMBRE</text>
<text transform="translate(148.05 650.20) scale(0.8408 1)" font-family='"Liberation Sans"' font-weight="400" font-size="21.22" fill="#161616" stroke="#161616" stroke-width="1.2" stroke-linejoin="round">JUEVES</text>
<text transform="translate(223.84 650.20) scale(0.9750 1)" font-family='"Liberation Sans"' font-weight="700" font-size="21.22" fill="#141414" stroke="#141414" stroke-width="1.2" stroke-linejoin="round">23-NOV</text>
<text transform="translate(391.10 650.20) scale(0.8862 1)" font-family='"Liberation Sans"' font-weight="400" font-size="21.22" fill="#161616" stroke="#161616" stroke-width="1.2" stroke-linejoin="round">VIERNES</text>
<text transform="translate(480.74 651.70) scale(0.9750 1)" font-family='"Liberation Sans"' font-weight="700" font-size="21.22" fill="#141414" stroke="#141414" stroke-width="1.2" stroke-linejoin="round">24-NOV</text>
<text transform="translate(650.38 649.70) scale(0.8714 1)" font-family='"Liberation Sans"' font-weight="400" font-size="21.22" fill="#161616" stroke="#161616" stroke-width="1.2" stroke-linejoin="round">SÁBADO</text>
<text transform="translate(734.74 651.70) scale(0.9750 1)" font-family='"Liberation Sans"' font-weight="700" font-size="21.22" fill="#141414" stroke="#141414" stroke-width="1.2" stroke-linejoin="round">25-NOV</text>
<text transform="translate(895.72 651.70) scale(0.8894 1)" font-family='"Liberation Sans"' font-weight="400" font-size="21.22" fill="#161616" stroke="#161616" stroke-width="1.2" stroke-linejoin="round">LUNES</text>
<text transform="translate(968.34 651.70) scale(0.9750 1)" font-family='"Liberation Sans"' font-weight="700" font-size="21.22" fill="#141414" stroke="#141414" stroke-width="1.2" stroke-linejoin="round">27-NOV</text>
<text transform="translate(1138.76 651.70) scale(0.8756 1)" font-family='"Liberation Sans"' font-weight="400" font-size="21.22" fill="#161616" stroke="#161616" stroke-width="1.2" stroke-linejoin="round">MARTES</text>
<text transform="translate(1224.84 651.70) scale(0.9750 1)" font-family='"Liberation Sans"' font-weight="700" font-size="21.22" fill="#141414" stroke="#141414" stroke-width="1.2" stroke-linejoin="round">28-NOV</text>
<text transform="translate(-15.98 685.95) scale(1.0000 1)" font-family='"Liberation Sans"' font-weight="700" font-size="19.62" fill="#B51A26" stroke="#B51A26" stroke-width="1.3" stroke-linejoin="round">ENERO 2024</text>
<text transform="translate(154.52 684.30) scale(0.8894 1)" font-family='"Liberation Sans"' font-weight="400" font-size="21.22" fill="#161616" stroke="#161616" stroke-width="1.2" stroke-linejoin="round">LUNES</text>
<text transform="translate(223.84 684.30) scale(0.9750 1)" font-family='"Liberation Sans"' font-weight="700" font-size="21.22" fill="#141414" stroke="#141414" stroke-width="1.2" stroke-linejoin="round">18-DIC</text>
<text transform="translate(396.56 684.90) scale(0.8756 1)" font-family='"Liberation Sans"' font-weight="400" font-size="21.22" fill="#161616" stroke="#161616" stroke-width="1.2" stroke-linejoin="round">MARTES</text>
<text transform="translate(480.74 687.20) scale(0.9750 1)" font-family='"Liberation Sans"' font-weight="700" font-size="21.22" fill="#141414" stroke="#141414" stroke-width="1.2" stroke-linejoin="round">19-DIC</text>
<text transform="translate(616.43 685.40) scale(0.8883 1)" font-family='"Liberation Sans"' font-weight="400" font-size="21.22" fill="#161616" stroke="#161616" stroke-width="1.2" stroke-linejoin="round">MIÉRCOLES</text>
<text transform="translate(734.74 687.20) scale(0.9750 1)" font-family='"Liberation Sans"' font-weight="700" font-size="21.22" fill="#141414" stroke="#141414" stroke-width="1.2" stroke-linejoin="round">20-DIC</text>
<text transform="translate(889.25 686.40) scale(0.8408 1)" font-family='"Liberation Sans"' font-weight="400" font-size="21.22" fill="#161616" stroke="#161616" stroke-width="1.2" stroke-linejoin="round">JUEVES</text>
<text transform="translate(968.34 686.40) scale(0.9750 1)" font-family='"Liberation Sans"' font-weight="700" font-size="21.22" fill="#141414" stroke="#141414" stroke-width="1.2" stroke-linejoin="round">21-DIC</text>
<text transform="translate(1133.30 686.40) scale(0.8862 1)" font-family='"Liberation Sans"' font-weight="400" font-size="21.22" fill="#161616" stroke="#161616" stroke-width="1.2" stroke-linejoin="round">VIERNES</text>
<text transform="translate(1224.84 686.40) scale(0.9750 1)" font-family='"Liberation Sans"' font-weight="700" font-size="21.22" fill="#141414" stroke="#141414" stroke-width="1.2" stroke-linejoin="round">22-DIC</text>
</svg>
</body></html>
